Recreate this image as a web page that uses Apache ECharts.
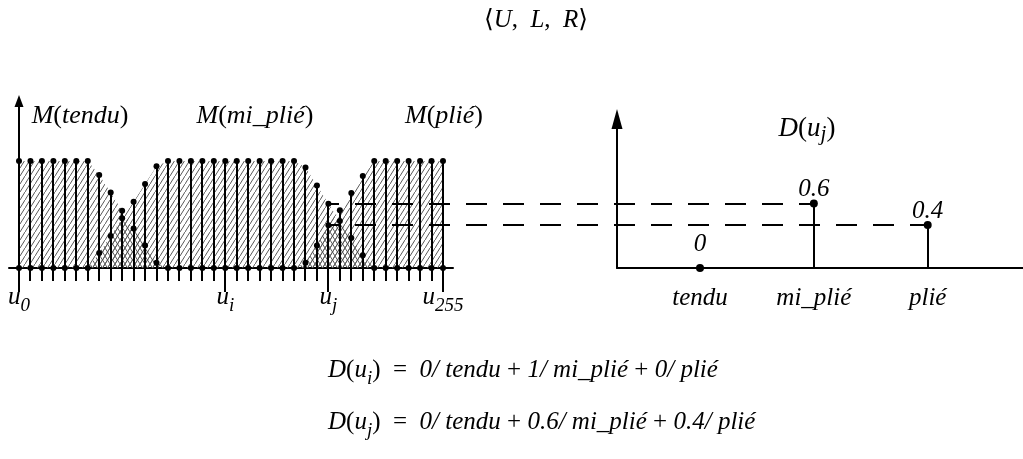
<!DOCTYPE html>
<html>
<head>
<meta charset="utf-8">
<script src="https://cdn.jsdelivr.net/npm/echarts@6/dist/echarts.min.js"></script>
<style>
  html, body { margin: 0; padding: 0; background: #fff; }
  #chart { width: 1023px; height: 459px; }
</style>
</head>
<body>
<div id="chart"></div>
<script>
// Membership degrees of the discrete universe samples u_0 … u_255 (38 stems drawn)
const mTendu  = [1, 1, 1, 1, 1, 1, 1, 0.87, 0.705, 0.535, 0.37, 0.21, 0.05,
                 0, 0, 0, 0, 0, 0, 0, 0, 0, 0, 0, 0,
                 0, 0, 0, 0, 0, 0,
                 0, 0, 0, 0, 0, 0, 0];
const mMiPlie = [0, 0, 0, 0, 0, 0, 0, 0.14, 0.30, 0.465, 0.62, 0.785, 0.95,
                 1, 1, 1, 1, 1, 1, 1, 1, 1, 1, 1, 1,
                 0.94, 0.77, 0.6, 0.44, 0.28, 0.12,
                 0, 0, 0, 0, 0, 0, 0];
const mPlie   = [0, 0, 0, 0, 0, 0, 0, 0, 0, 0, 0, 0, 0,
                 0, 0, 0, 0, 0, 0, 0, 0, 0, 0, 0, 0,
                 0.05, 0.21, 0.4, 0.54, 0.70, 0.86,
                 1, 1, 1, 1, 1, 1, 1];

// Named samples on the universe axis
const uLabelIndex = [0, 18, 27, 37];
const uLabelSub   = ['0', 'i', 'j', '255'];
const ujIndex = 27;

// Fuzzy description D(u_j)
const dCategories = ['tendu', 'mi_plié', 'plié'];
const dValues     = [0, 0.6, 0.4];

const SERIF = "'Liberation Serif', 'Times New Roman', 'DejaVu Serif', serif";
const FS = 25;

function hatch(dir) {
  const c = document.createElement('canvas');
  c.width = 5; c.height = 8;
  const g = c.getContext('2d');
  g.strokeStyle = '#5a5a5a';
  g.lineWidth = 1;
  g.beginPath();
  if (dir > 0) { g.moveTo(-5, 16); g.lineTo(10, -8); }
  else { g.moveTo(-5, -8); g.lineTo(10, 16); }
  g.stroke();
  return c;
}
const fwd = { image: hatch(1), repeat: 'repeat' };
const back = { image: hatch(-1), repeat: 'repeat' };

const sets = [mTendu, mMiPlie, mPlie];
const stemTop = mTendu.map((_, i) => Math.max(...sets.map(s => s[i])));
// Overlap of neighbouring sets gets the cross hatch
const overlap = mTendu.map((_, i) =>
  Math.max(Math.min(mTendu[i], mMiPlie[i]), Math.min(mMiPlie[i], mPlie[i])));

const stemData = stemTop.map((v, i) => [i, v, uLabelIndex.includes(i) ? 24 : 13]);
const dotsOf = s => s.map((v, i) => [i, v]).filter(p => p[1] > 0);
const baseDots = stemTop.map((v, i) => [i, 0]).filter(p => stemTop[p[0]] === 1);

const labelRich = {
  i: { fontFamily: SERIF, fontStyle: 'italic', fontSize: FS, lineHeight: 30, verticalAlign: 'top', color: '#000' },
  s: { fontFamily: SERIF, fontStyle: 'italic', fontSize: 19, lineHeight: 14, verticalAlign: 'bottom', color: '#000' }
};
function zrRich(size) {
  return {
    i: { fontFamily: SERIF, fontStyle: 'italic', fontSize: size, lineHeight: 30, verticalAlign: 'top', fill: '#000' },
    r: { fontFamily: SERIF, fontSize: size, lineHeight: 30, verticalAlign: 'top', fill: '#000' },
    s: { fontFamily: SERIF, fontStyle: 'italic', fontSize: Math.round(size * 0.76), lineHeight: 14, verticalAlign: 'bottom', fill: '#000' }
  };
}

function stemRender(params, api) {
  const x = api.value(0), top = api.value(1), tick = api.value(2);
  const base = api.coord([x, 0]);
  const tip = api.coord([x, top]);
  const px = Math.round(base[0]);
  return {
    type: 'line',
    shape: { x1: px, y1: base[1] + tick, x2: px, y2: tip[1] },
    style: { stroke: '#000', lineWidth: 2 }
  };
}

function areaSeries(data, pattern, z) {
  return {
    type: 'line', xAxisIndex: 0, yAxisIndex: 0, z: z,
    data: data.map((v, i) => [i, v]),
    showSymbol: false, symbol: 'none',
    lineStyle: { width: 0, opacity: 0 },
    areaStyle: { color: pattern, opacity: 1 },
    silent: true
  };
}

const dot = { color: '#000', opacity: 1 };

function text(x, y, str, size, align) {
  return {
    type: 'text', x: x, y: y, silent: true,
    style: { text: str, rich: zrRich(size), align: align || 'left', verticalAlign: 'middle' }
  };
}

const chart = echarts.init(document.getElementById('chart'), null, { renderer: 'canvas' });

chart.setOption({
  animation: false,
  backgroundColor: '#fff',
  grid: [
    { left: 9, top: 101, width: 444, height: 167 },
    { left: 617, top: 119, width: 406, height: 149 }
  ],
  xAxis: [
    {
      gridIndex: 0, type: 'value', min: -0.873, max: 37.873,
      axisLine: { lineStyle: { color: '#000', width: 2 } },
      axisTick: { show: false }, axisLabel: { show: false }, splitLine: { show: false }
    },
    {
      gridIndex: 1, type: 'value', min: -0.729, max: 2.837,
      axisLine: { lineStyle: { color: '#000', width: 2 } },
      axisTick: { show: false }, axisLabel: { show: false }, splitLine: { show: false }
    }
  ],
  yAxis: [
    {
      gridIndex: 0, type: 'value', min: 0, max: 1.5607,
      axisLine: { show: true, onZero: true, symbol: ['none', 'triangle'], symbolSize: [9, 12],
                  lineStyle: { color: '#000', width: 2 } },
      axisTick: { show: false }, axisLabel: { show: false }, splitLine: { show: false }
    },
    {
      gridIndex: 1, type: 'value', min: 0, max: 1.386,
      axisLine: { show: true, onZero: false, symbol: ['none', 'triangle'], symbolSize: [11, 20],
                  lineStyle: { color: '#000', width: 2 } },
      axisTick: { show: false }, axisLabel: { show: false }, splitLine: { show: false }
    }
  ],
  series: [
    areaSeries(mTendu, fwd, 1),
    areaSeries(mMiPlie, fwd, 1),
    areaSeries(mPlie, fwd, 1),
    areaSeries(overlap, back, 1),
    {
      type: 'custom', xAxisIndex: 0, yAxisIndex: 0, z: 3, silent: true,
      renderItem: stemRender, data: stemData, clip: false
    },
    ...sets.map(s => ({
      type: 'scatter', xAxisIndex: 0, yAxisIndex: 0, z: 4, silent: true,
      symbolSize: 6, itemStyle: dot, data: dotsOf(s)
    })),
    {
      type: 'scatter', xAxisIndex: 0, yAxisIndex: 0, z: 4, silent: true,
      symbolSize: 6, itemStyle: dot, data: baseDots
    },
    {
      // u_k names under the universe axis
      type: 'scatter', xAxisIndex: 0, yAxisIndex: 0, silent: true,
      symbolSize: 0, itemStyle: dot, data: uLabelIndex.map(i => [i, 0]),
      label: {
        show: true, position: 'bottom', distance: 17,
        formatter: p => '{i|u}{s|' + uLabelSub[p.dataIndex] + '}',
        rich: labelRich
      }
    },
    {
      type: 'custom', xAxisIndex: 1, yAxisIndex: 1, z: 3, silent: true,
      renderItem: stemRender, data: dValues.map((v, k) => [k, v, 0]), clip: false
    },
    {
      type: 'scatter', xAxisIndex: 1, yAxisIndex: 1, z: 4, silent: true,
      symbolSize: 8, itemStyle: dot,
      data: dValues.map((v, k) => ({
        value: [k, v],
        // a zero sits on the axis line, so its label is lifted clear of it
        label: { distance: v === 0 ? 8 : -2 }
      })),
      label: {
        show: true, position: 'top',
        formatter: p => String(dValues[p.dataIndex]),
        fontFamily: SERIF, fontStyle: 'italic', fontSize: FS, lineHeight: 24, color: '#000'
      }
    },
    {
      type: 'scatter', xAxisIndex: 1, yAxisIndex: 1, silent: true,
      symbolSize: 0, itemStyle: dot, data: dCategories.map((c, k) => [k, 0]),
      label: {
        show: true, position: 'bottom', distance: 18,
        formatter: p => dCategories[p.dataIndex],
        fontFamily: SERIF, fontStyle: 'italic', fontSize: FS, lineHeight: 24, color: '#000'
      }
    }
  ]
});

// Dashed guides from the u_j memberships across to D(u_j)
const guides = [[mMiPlie, 1], [mPlie, 2]].map(([set, k]) => {
  const a = chart.convertToPixel({ gridIndex: 0 }, [ujIndex, set[ujIndex]]);
  const b = chart.convertToPixel({ gridIndex: 1 }, [k, dValues[k]]);
  return {
    type: 'line', z: 5, silent: true,
    shape: { x1: Math.round(a[0]), y1: Math.round(a[1]), x2: Math.round(b[0]), y2: Math.round(a[1]) },
    style: { stroke: '#000', lineWidth: 2, lineDash: [21, 16], lineDashOffset: 10 }
  };
});

chart.setOption({
  graphic: [
    ...guides,
    text(536, 23, '{r|⟨}{i|U}{r|,  }{i|L}{r|,  }{i|R}{r|⟩}', 25, 'center'),
    text(80, 118, '{i|M}{r|(}{i|tendu}{r|)}', 26, 'center'),
    text(255, 118, '{i|M}{r|(}{i|mi_plié}{r|)}', 26, 'center'),
    text(444, 118, '{i|M}{r|(}{i|plié}{r|)}', 26, 'center'),
    text(807, 130, '{i|D}{r|(}{i|u}{s|j}{r|)}', 27, 'center'),
    text(328, 373, '{i|D}{r|(}{i|u}{s|i}{r|)  =  }{i|0/ tendu}{r| + }{i|1/ mi_plié}{r| + }{i|0/ plié}', 25),
    text(328, 425, '{i|D}{r|(}{i|u}{s|j}{r|)  =  }{i|0/ tendu}{r| + }{i|0.6/ mi_plié}{r| + }{i|0.4/ plié}', 25)
  ]
});
</script>
</body>
</html>
